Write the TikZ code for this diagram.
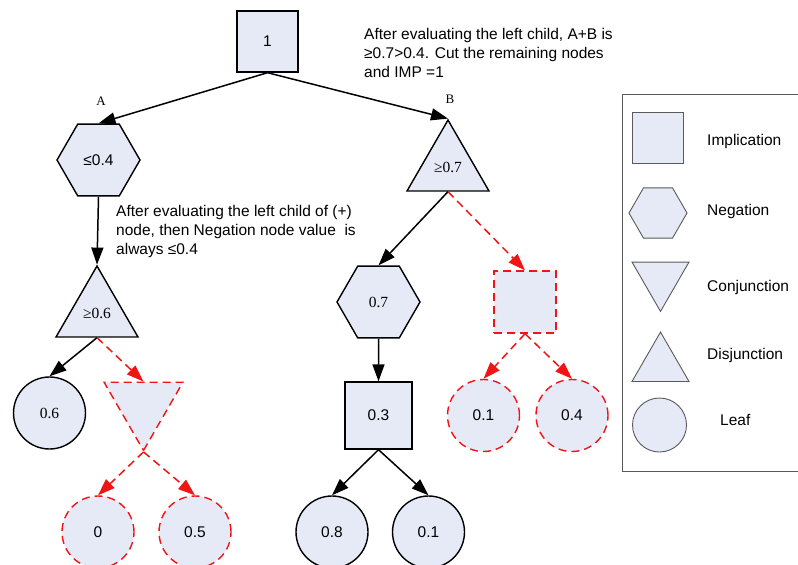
\documentclass[tikz,border=0pt]{standalone}
\usepackage{fontspec}
\setmainfont{Liberation Serif}
\newfontfamily\txtsans{Liberation Sans}
\usetikzlibrary{arrows.meta,shapes.geometric}
\definecolor{nodefill}{HTML}{E5EAF6}
\definecolor{cutred}{HTML}{F01414}
\definecolor{keygray}{HTML}{5A5A5A}
\begin{document}
\begin{tikzpicture}[x=1pt,y=-1pt,
  every node/.style={inner sep=0pt},
  txt/.style={font=\txtsans\fontsize{15.5}{19}\selectfont},
  serifnum/.style={font=\rmfamily\fontsize{15.5}{19}\selectfont},
  shapebase/.style={fill=nodefill, draw=black, line width=1.4pt, txt},
  impl/.style={shapebase, rectangle, minimum size=#1},
  neg/.style={shapebase, regular polygon, regular polygon sides=6, minimum size=#1},
  disj/.style={shapebase, regular polygon, regular polygon sides=3, minimum size=#1},
  conj/.style={disj=#1, shape border rotate=180},
  leaf/.style={shapebase, circle, minimum size=72pt},
  pruned/.style={draw=cutred, dash pattern=on 8pt off 5pt},
  edge/.style={-{Triangle[length=17pt,width=12pt]}, line width=1.5pt},
  cutedge/.style={edge, cutred, dash pattern=on 8pt off 5pt},
  keyshape/.style={fill=nodefill, draw=keygray, line width=0.9pt},
  keytext/.style={txt, anchor=base west},
  branchlabel/.style={font=\rmfamily\fontsize{13}{15}\selectfont},
  note/.style={txt, align=left, anchor=base west}]
\useasboundingbox (0,0) rectangle (798,565);

% ---- left subtree (A) ----
\node[impl=61] (root) at (267.5,41.5) {1};
\node[neg=83] (negA) at (98.5,160) {≤0.4};
\node[disj=94.6, serifnum] (orA) at (97,313.3) {≥0.6};
\node[leaf, serifnum] (leafA1) at (49.5,413) {0.6};
\node[conj=91, pruned] (andA) at (143.5,405) {};
\node[leaf, pruned] (leafA2) at (98,532) {0};
\node[leaf, pruned] (leafA3) at (195,532) {0.5};

% ---- right subtree (B) ----
\node[disj=94.6, serifnum] (orB) at (448,167.3) {≥0.7};
\node[neg=83, serifnum] (negB) at (378.5,302) {0.7};
\node[impl=67] (impB) at (378.5,415.5) {0.3};
\node[leaf] (leafB1) at (332,532) {0.8};
\node[leaf] (leafB2) at (428.5,532) {0.1};
\node[impl=62, pruned] (impCut) at (525,302) {};
\node[leaf, pruned] (leafC1) at (483.5,415.5) {0.1};
\node[leaf, pruned] (leafC2) at (572,415.5) {0.4};

% ---- branch labels and notes (base = last line) ----
\node[branchlabel] (labA) at (101,101) {A};
\node[branchlabel] (labB) at (450,99) {B};
\node[note] (noteA) at (116,254) {After evaluating the left child of (+)\\node, then Negation node value\ \ is\\always ≤0.4};
\node[note] (noteB) at (364,77) {After evaluating the left child, A+B is\\≥0.7>0.4. Cut the remaining nodes\\and IMP =1};

% ---- edges ----
\draw[edge] (root.south) -- (negA.north);
\draw[edge] (root.south) -- (orB.north);
\draw[edge] (negA.south) -- (orA.north);
\draw[edge] (orA.south) -- (leafA1.north);
\draw[cutedge] (orA.south) -- (andA.north);
\draw[cutedge] (andA.south) -- (leafA2.north);
\draw[cutedge] (andA.south) -- (leafA3.north);
\draw[edge] (orB.south) -- (negB.north);
\draw[cutedge] (orB.south) -- (impCut.north);
\draw[edge] (negB.south) -- (impB.north);
\draw[edge] (impB.south) -- (leafB1.north);
\draw[edge] (impB.south) -- (leafB2.north);
\draw[cutedge] (impCut.south) -- (leafC1.north);
\draw[cutedge] (impCut.south) -- (leafC2.north);

% ---- legend ----
\draw[keygray, line width=0.9pt] (622,94) rectangle (806,471);
\node[keyshape, rectangle, minimum size=51] (keyImp) at (657.5,138) {};
\node[keyshape, regular polygon, regular polygon sides=6, minimum size=58] (keyNeg) at (658,213) {};
\node[keyshape, regular polygon, regular polygon sides=3, shape border rotate=180, minimum size=65.8] (keyConj) at (660.5,278.5) {};
\node[keyshape, regular polygon, regular polygon sides=3, minimum size=65.8] (keyDisj) at (660.5,365) {};
\node[keyshape, circle, minimum size=54] (keyLeaf) at (659.5,425) {};
\node[keytext] (txtImp) at (707,145) {Implication};
\node[keytext] (txtNeg) at (707,215) {Negation};
\node[keytext] (txtConj) at (707,291) {Conjunction};
\node[keytext] (txtDisj) at (707,359) {Disjunction};
\node[keytext] (txtLeaf) at (720,425) {Leaf};
\end{tikzpicture}
\end{document}
